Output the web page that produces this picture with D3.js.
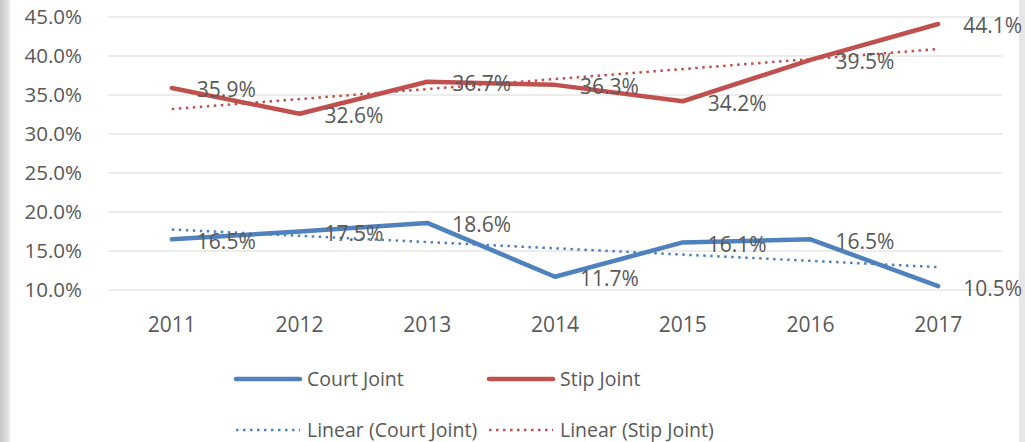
<!DOCTYPE html>
<meta charset="utf-8">
<style>
body { margin: 0; background: #fff; }
text { font-family: "Open Sans", sans-serif; fill: #595959; }
.grid line { stroke: #d9d9d9; stroke-width: 1; }
</style>
<svg width="1025" height="442"></svg>
<script src="https://d3js.org/d3.v7.min.js"></script>
<script>
var years = ["2011", "2012", "2013", "2014", "2015", "2016", "2017"];
var courtJoint = [16.5, 17.5, 18.6, 11.7, 16.1, 16.5, 10.5];
var stipJoint = [35.9, 32.6, 36.7, 36.3, 34.2, 39.5, 44.1];
var yTicks = [10, 15, 20, 25, 30, 35, 40, 45];

var blue = "#4f81bd", red = "#c0504d";

var svg = d3.select("svg");

// grey frame edges
var defs = svg.append("defs");
var gl = defs.append("linearGradient").attr("id", "edgeL");
gl.append("stop").attr("offset", "0%").attr("stop-color", "#c4c4c4");
gl.append("stop").attr("offset", "100%").attr("stop-color", "#ececec");
svg.append("rect").attr("x", 0).attr("y", 0).attr("width", 10).attr("height", 442).attr("fill", "url(#edgeL)");
svg.append("rect").attr("x", 1019).attr("y", 0).attr("width", 6).attr("height", 442).attr("fill", "#e6e6e6");

var x = d3.scalePoint().domain(years).range([108, 1002]).padding(0.5),
    y = d3.scaleLinear().domain([10, 45]).range([290, 17]);

// gridlines
svg.append("g").attr("class", "grid")
  .selectAll("line").data(yTicks).enter().append("line")
    .attr("x1", 108).attr("x2", 1002)
    .attr("y1", function(d) { return y(d); })
    .attr("y2", function(d) { return y(d); });

// y labels
svg.append("g").selectAll("text").data(yTicks).enter().append("text")
    .attr("x", 82).attr("y", function(d) { return y(d); })
    .attr("dy", "0.36em")
    .attr("text-anchor", "end")
    .style("font-size", "20.5px")
    .text(function(d) { return d.toFixed(1) + "%"; });

// x labels
svg.append("g").selectAll("text").data(years).enter().append("text")
    .attr("x", function(d) { return x(d); }).attr("y", 332)
    .attr("text-anchor", "middle")
    .style("font-size", "21px")
    .text(function(d) { return d; });

var line = d3.line()
    .x(function(d, i) { return x(years[i]); })
    .y(function(d) { return y(d); });

function trend(vals) {
  var n = vals.length, mx = (n + 1) / 2, my = d3.mean(vals), sxy = 0, sxx = 0;
  vals.forEach(function(v, i) { sxy += (i + 1 - mx) * (v - my); sxx += (i + 1 - mx) * (i + 1 - mx); });
  var b = sxy / sxx, a = my - b * mx;
  return [a + b, a + b * n];
}

[[stipJoint, red], [courtJoint, blue]].forEach(function(s) {
  var t = trend(s[0]);
  svg.append("line")
    .attr("x1", x(years[0])).attr("x2", x(years[years.length - 1]))
    .attr("y1", y(t[0])).attr("y2", y(t[1]))
    .attr("stroke", s[1]).attr("stroke-width", 2.5)
    .attr("stroke-dasharray", "2.5,4.5");
  svg.append("path").datum(s[0])
    .attr("d", line)
    .attr("fill", "none")
    .attr("stroke", s[1]).attr("stroke-width", 4.5)
    .attr("stroke-linejoin", "round").attr("stroke-linecap", "round");
});

// data labels
[courtJoint, stipJoint].forEach(function(vals) {
  svg.append("g").selectAll("text").data(vals).enter().append("text")
    .attr("x", function(d, i) { return x(years[i]) + 25; })
    .attr("y", function(d) { return y(d); })
    .attr("dy", "0.45em")
    .style("font-size", "21px")
    .text(function(d) { return d.toFixed(1) + "%"; });
});

// legend
var legend = [
  {name: "Court Joint", color: blue, dash: null, x: 235, y: 379},
  {name: "Stip Joint", color: red, dash: null, x: 488, y: 379},
  {name: "Linear (Court Joint)", color: blue, dash: "2.5,4.5", x: 235, y: 430},
  {name: "Linear (Stip Joint)", color: red, dash: "2.5,4.5", x: 488, y: 430}
];
var lg = svg.append("g").selectAll("g").data(legend).enter().append("g")
    .attr("transform", function(d) { return "translate(" + d.x + "," + d.y + ")"; });
lg.append("line")
    .attr("x1", 1).attr("x2", 65)
    .attr("stroke", function(d) { return d.color; })
    .attr("stroke-width", function(d) { return d.dash ? 2.5 : 4.5; })
    .attr("stroke-linecap", function(d) { return d.dash ? "butt" : "round"; })
    .attr("stroke-dasharray", function(d) { return d.dash; });
lg.append("text")
    .attr("x", 72).attr("dy", "0.36em")
    .style("font-size", "19.5px")
    .text(function(d) { return d.name; });
</script>
